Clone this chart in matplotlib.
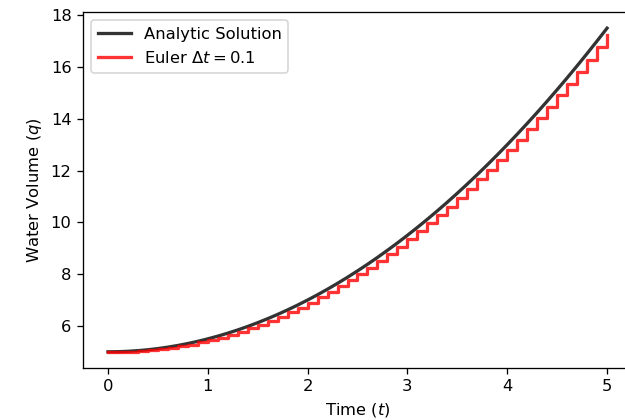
import matplotlib
matplotlib.use("Agg")
import matplotlib.pyplot as plt

t = [0.0, 0.1, 0.2, 0.3, 0.4, 0.5, 0.6, 0.7, 0.8, 0.9,
     1.0, 1.1, 1.2, 1.3, 1.4, 1.5, 1.6, 1.7, 1.8, 1.9,
     2.0, 2.1, 2.2, 2.3, 2.4, 2.5, 2.6, 2.7, 2.8, 2.9,
     3.0, 3.1, 3.2, 3.3, 3.4, 3.5, 3.6, 3.7, 3.8, 3.9,
     4.0, 4.1, 4.2, 4.3, 4.4, 4.5, 4.6, 4.7, 4.8, 4.9, 5.0]

q_analytic = [5.0, 5.005, 5.02, 5.045, 5.08, 5.125, 5.18, 5.245, 5.32, 5.405,
              5.5, 5.605, 5.72, 5.845, 5.98, 6.125, 6.28, 6.445, 6.62, 6.805,
              7.0, 7.205, 7.42, 7.645, 7.88, 8.125, 8.38, 8.645, 8.92, 9.205,
              9.5, 9.805, 10.12, 10.445, 10.78, 11.125, 11.48, 11.845, 12.22, 12.605,
              13.0, 13.405, 13.82, 14.245, 14.68, 15.125, 15.58, 16.045, 16.52, 17.005, 17.5]

q_euler = [5.0, 5.0, 5.01, 5.03, 5.06, 5.10, 5.15, 5.21, 5.28, 5.36,
           5.45, 5.55, 5.66, 5.78, 5.91, 6.05, 6.20, 6.36, 6.53, 6.71,
           6.90, 7.10, 7.31, 7.53, 7.76, 8.00, 8.25, 8.51, 8.78, 9.06,
           9.35, 9.65, 9.96, 10.28, 10.61, 10.95, 11.30, 11.66, 12.03, 12.41,
           12.80, 13.20, 13.61, 14.03, 14.46, 14.90, 15.35, 15.81, 16.28, 16.76, 17.25]

labels = ["Analytic Solution", r"Euler $\Delta t = 0.1$"]

DPI = 118
fig = plt.figure(figsize=(625/DPI, 420/DPI), dpi=DPI)
ax = fig.add_axes([83/625, 52/420, 549/625, 356/420])
ax.plot(t, q_analytic, color='k', alpha=0.8, lw=2, label=labels[0])
ax.plot(t, q_euler, color='r', alpha=0.8, lw=2, drawstyle='steps-post', label=labels[1])
ax.set_xlim(-0.25, 5.25)
ax.set_ylim(4.375, 18.125)
ax.spines['right'].set_visible(False)
ax.set_xlabel(r"Time ($t$)")
ax.set_ylabel(r"Water Volume ($q$)")
ax.legend(loc='upper left')
fig.savefig("out.png", dpi=DPI)
print(fig.canvas.get_width_height())
